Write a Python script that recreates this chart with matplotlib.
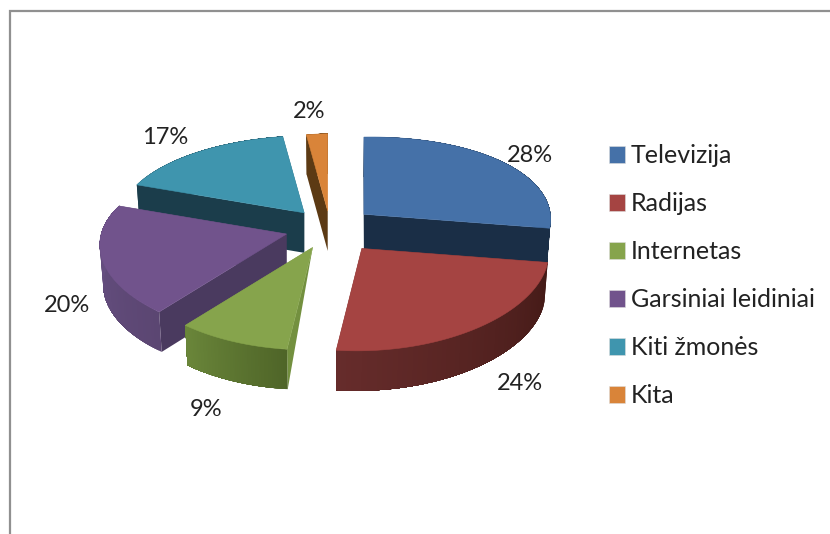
import numpy as np
import matplotlib
matplotlib.use("Agg")
import matplotlib.pyplot as plt
from matplotlib.colors import to_rgb
from matplotlib.patches import Patch, Polygon

# ---- data ----
categories = ["Televizija", "Radijas", "Internetas", "Garsiniai leidiniai", "Kiti žmonės", "Kita"]
shares = [28, 24, 9, 20, 17, 2]

# ---- styles ----
top_colors = ["#4571a8", "#a54442", "#86a44c", "#71538c", "#3f95ae", "#d98439"]
cut_colors = ["#1a2e46", "#461c19", "#73903f", "#4a3a5f", "#1b3d4b", "#5c3a14"]
rim_from = ["#1a2e46", "#441a17", "#4f6528", "#5b4672", "#1b3d4b", "#5c3a14"]
rim_to = ["#1a2e46", "#662c2b", "#6a863a", "#6a5286", "#1b3d4b", "#5c3a14"]
explode = [0.24, 0.285, 0.23, 0.24, 0.23, 0.20]
apex_depth = [1, 1, 0, 1, 1, 1]
label_xy = [(530, 155), (520, 383), (206, 410), (67, 305), (165, 138), (309, 111)]

# ---- layout (pixel-like axes coordinates) ----
CX, CY = 330, 228
RX, RY, PERSP_X, PERSP_Y, TILT = 186, 88, 0.09, 0.14, 3
DEPTH, CONVERGE = 40, 0.015


def project(theta, r=1.0):
    u, v = r * np.sin(theta), r * np.cos(theta)
    return RX * u / (1 + PERSP_X * v), -RY * v / (1 + PERSP_Y * v) - TILT * u


def lower(x, y):
    return x + (CX - x) * CONVERGE, y + DEPTH


def mix(a, b, t):
    a, b = np.array(to_rgb(a)), np.array(to_rgb(b))
    return tuple(a + (b - a) * t)


plt.rcParams["font.family"] = ["Lato", "DejaVu Sans"]
fig = plt.figure(figsize=(8.3, 5.34), dpi=100)
ax = fig.add_axes([0, 0, 1, 1])
ax.set_xlim(0, 830)
ax.set_ylim(534, 0)
ax.axis("off")

# chart frame, cropped at right and bottom in the reference
ax.plot([10, 10, 830], [534, 11, 11], color="#909090", lw=1.6, solid_joinstyle="miter")

fractions = np.array(shares) / sum(shares)
edges = np.concatenate([[0], np.cumsum(fractions)]) * 2 * np.pi
slices = []
for i in range(len(shares)):
    a0, a1 = edges[i], edges[i + 1]
    mid = (a0 + a1) / 2
    slices.append((np.cos(mid), i, a0, a1, mid))

z = 2
for _, i, a0, a1, mid in sorted(slices, key=lambda s: -s[0]):
    dx, dy = project(mid, explode[i])
    ax_x, ax_y = CX + dx, CY + dy
    thetas = np.linspace(a0, a1, 60)
    ox, oy = project(thetas)
    ox, oy = ox + ax_x, oy + ax_y
    bx, by = lower(ox, oy)
    apex_low_x, apex_low_y = ax_x, ax_y + DEPTH * apex_depth[i]

    # radial cut walls
    for k in (0, -1):
        wall = [(ax_x, ax_y), (ox[k], oy[k]), (bx[k], by[k]), (apex_low_x, apex_low_y)]
        ax.add_patch(Polygon(wall, closed=True, fc=cut_colors[i], ec="none", zorder=z))
    z += 1

    # outer rim with a gradient along the arc: each step repaints the rest of the rim
    for k in range(len(thetas) - 1):
        c = mix(rim_from[i], rim_to[i], k / (len(thetas) - 2))
        seg = list(zip(ox[k:], oy[k:])) + list(zip(bx[k:][::-1], by[k:][::-1]))
        ax.add_patch(Polygon(seg, closed=True, fc=c, ec="none", zorder=z))
    z += 1

    # top face
    face = [(ax_x, ax_y)] + list(zip(ox, oy))
    ax.add_patch(Polygon(face, closed=True, fc=top_colors[i], ec=top_colors[i], lw=0.4, zorder=z))
    z += 1

for share, (lx, ly) in zip(shares, label_xy):
    ax.text(lx, ly, f"{share}%", ha="center", va="center", fontsize=17, color="#222222", zorder=z)

handles = [Patch(fc=c, ec="#dddddd", lw=0.4, label=n) for c, n in zip(top_colors, categories)]
leg = ax.legend(handles=handles, loc="upper left", bbox_to_anchor=(609 / 830, 1 - 144.5 / 534),
                frameon=False, fontsize=18, labelcolor="#222222", handlelength=0.64, handleheight=0.64,
                handletextpad=0.22, labelspacing=1.0, borderpad=0, borderaxespad=0)

fig.savefig("out.png", dpi=100)
